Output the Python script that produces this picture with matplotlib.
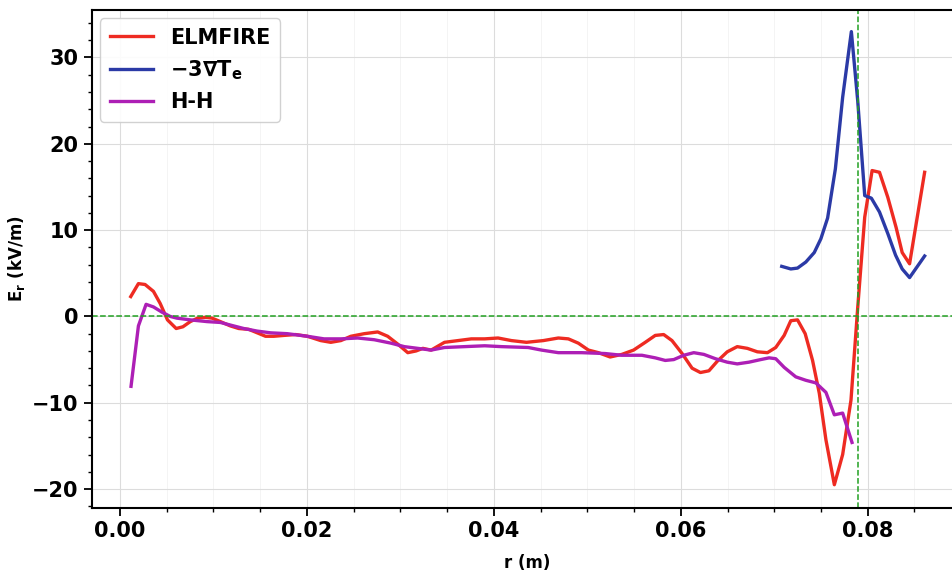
import matplotlib
matplotlib.use("Agg")
import matplotlib.pyplot as plt
from matplotlib.ticker import MultipleLocator

# ELMFIRE radial electric field
r_elm = [0.00115, 0.00197, 0.00268, 0.00358, 0.00430, 0.00508, 0.00601, 0.00673,
         0.00752, 0.00830, 0.00913, 0.00985, 0.01074, 0.01181, 0.01270, 0.01378,
         0.01468, 0.01557, 0.01646, 0.01754, 0.01879, 0.02005, 0.02148, 0.02255,
         0.02363, 0.02470, 0.02613, 0.02757, 0.02864, 0.02971, 0.03079, 0.03168,
         0.03240, 0.03329, 0.03472, 0.03616, 0.03759, 0.03902, 0.04045, 0.04188,
         0.04349, 0.04529, 0.04690, 0.04797, 0.04904, 0.05012, 0.05119, 0.05244,
         0.05369, 0.05495, 0.05620, 0.05727, 0.05817, 0.05906, 0.06014, 0.06121,
         0.06210, 0.06301, 0.06390, 0.06497, 0.06604, 0.06712, 0.06819, 0.06927,
         0.07016, 0.07106, 0.07177, 0.07249, 0.07331, 0.07410, 0.07482, 0.07553,
         0.07643, 0.07732, 0.07821, 0.07893, 0.07968, 0.08047, 0.08126, 0.08215,
         0.08304, 0.08369, 0.08448, 0.08609]
er_elm = [2.3, 3.8, 3.7, 2.9, 1.5, -0.4, -1.4, -1.2,
          -0.6, -0.2, -0.1, -0.2, -0.6, -1.1, -1.4, -1.5,
          -1.9, -2.3, -2.3, -2.2, -2.1, -2.3, -2.8, -3.0,
          -2.8, -2.3, -2.0, -1.8, -2.3, -3.2, -4.2, -4.0,
          -3.7, -3.9, -3.0, -2.8, -2.6, -2.6, -2.5, -2.8,
          -3.0, -2.8, -2.5, -2.6, -3.1, -3.9, -4.2, -4.7,
          -4.4, -3.9, -3.0, -2.2, -2.1, -2.8, -4.3, -6.0,
          -6.5, -6.3, -5.2, -4.1, -3.5, -3.7, -4.1, -4.2,
          -3.6, -2.2, -0.5, -0.4, -2.0, -5.1, -8.9, -14.3,
          -19.5, -16.0, -9.7, 1.0, 11.5, 16.9, 16.7, 13.8,
          10.3, 7.4, 6.1, 16.7]

# -3 grad Te
r_te = [0.07080, 0.07177, 0.07249, 0.07338, 0.07428, 0.07499, 0.07571, 0.07654,
        0.07732, 0.07825, 0.07893, 0.07968, 0.08039, 0.08126, 0.08215, 0.08298,
        0.08369, 0.08448, 0.08609]
er_te = [5.8, 5.5, 5.6, 6.3, 7.4, 9.0, 11.4, 17.1,
         25.4, 33.0, 25.0, 14.0, 13.7, 12.1, 9.6, 7.1,
         5.5, 4.5, 7.0]

# H-H
r_hh = [0.00118, 0.00197, 0.00279, 0.00358, 0.00448, 0.00537, 0.00609, 0.00752,
        0.00931, 0.01074, 0.01181, 0.01324, 0.01468, 0.01611, 0.01790, 0.02005,
        0.02183, 0.02363, 0.02542, 0.02720, 0.02900, 0.03042, 0.03186, 0.03329,
        0.03472, 0.03687, 0.03902, 0.04081, 0.04367, 0.04510, 0.04690, 0.04940,
        0.05190, 0.05369, 0.05584, 0.05727, 0.05834, 0.05925, 0.06032, 0.06139,
        0.06247, 0.06371, 0.06497, 0.06604, 0.06730, 0.06855, 0.06945, 0.07016,
        0.07106, 0.07230, 0.07338, 0.07445, 0.07553, 0.07643, 0.07732, 0.07832]
er_hh = [-8.1, -1.1, 1.4, 1.1, 0.5, 0.0, -0.2, -0.4,
         -0.6, -0.7, -1.0, -1.4, -1.7, -1.9, -2.0, -2.3,
         -2.6, -2.6, -2.5, -2.7, -3.1, -3.5, -3.7, -3.9,
         -3.6, -3.5, -3.4, -3.5, -3.6, -3.9, -4.2, -4.2,
         -4.3, -4.5, -4.5, -4.8, -5.1, -5.0, -4.5, -4.2,
         -4.4, -4.9, -5.3, -5.5, -5.3, -5.0, -4.8, -4.9,
         -5.9, -7.0, -7.4, -7.7, -8.8, -11.4, -11.2, -14.6]

r_sep = 0.079

plt.rcParams['font.weight'] = 'bold'
plt.rcParams['axes.labelweight'] = 'bold'
plt.rcParams['mathtext.default'] = 'bf'

fig = plt.figure(figsize=(9.52, 5.76), dpi=100)
ax = fig.add_axes([0.0966, 0.118, 0.915, 0.8646])

ax.plot(r_elm, er_elm, color='#ee2b22', lw=2.4, label='ELMFIRE')
ax.plot(r_te, er_te, color='#2b3aa6', lw=2.4, label=r'$-3\nabla T_e$')
ax.plot(r_hh, er_hh, color='#ad1fb5', lw=2.4, label='H-H')
ax.axhline(0, color='#22a022', ls='--', lw=1.1)
ax.axvline(r_sep, color='#22a022', ls='--', lw=1.1)

ax.set_xlim(-0.003, 0.0902)
ax.set_ylim(-22.2, 35.5)
ax.xaxis.set_major_locator(MultipleLocator(0.02))
ax.xaxis.set_minor_locator(MultipleLocator(0.005))
ax.yaxis.set_major_locator(MultipleLocator(10))
ax.yaxis.set_minor_locator(MultipleLocator(2))
ax.grid(which='major', color='#dcdcdc', lw=0.8)
ax.grid(which='minor', axis='x', color='#f3f3f3', lw=0.6)
ax.set_axisbelow(True)

ax.tick_params(which='major', length=6, width=1.3, labelsize=15)
ax.tick_params(which='minor', length=3, width=1.0)
for s in ax.spines.values():
    s.set_linewidth(1.5)

ax.set_xlabel('r (m)', fontsize=12, labelpad=9)
ax.set_ylabel(r'$E_r$ (kV/m)', fontsize=12, labelpad=4)

ax.legend(loc='upper left', fontsize=15, handlelength=2.1, framealpha=0.9,
          edgecolor='#cccccc', borderpad=0.45, borderaxespad=0.4)

fig.savefig('out.png', dpi=100)
